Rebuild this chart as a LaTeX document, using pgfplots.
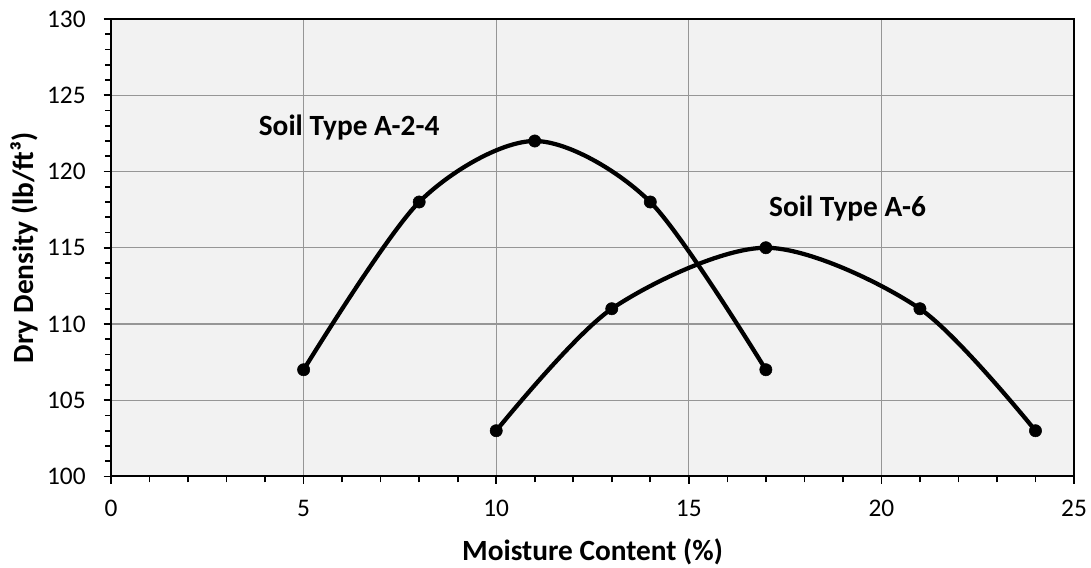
\documentclass[border=0pt]{standalone}
\usepackage{fontspec}
\setmainfont{Carlito}
\usepackage{pgfplots}
\pgfplotsset{compat=1.18}
\definecolor{plotbg}{RGB}{242,242,242}
\definecolor{gridgray}{RGB}{150,150,150}
\tikzset{
	soil/.style={black, line width=3.2pt, smooth, tension=0.5,
		mark=*, mark size=4.6pt, mark options={solid, fill=black, line width=0.4pt}},
}
\begin{document}
\begin{tikzpicture}
% 1 px of the reference = 0.75pt
\useasboundingbox (-83.25pt,-68.25pt) rectangle (734.75pt,357.25pt);
\begin{axis}[
	scale only axis,
	width=722pt, height=343pt,
	xmin=0, xmax=25, ymin=100, ymax=130,
	xtick={0,5,...,25}, ytick={100,105,...,130},
	minor x tick num=4, minor y tick num=4,
	axis background/.style={fill=plotbg},
	axis line style={black, line width=1.5pt},
	grid=major,
	major grid style={gridgray, line width=1pt},
	tick align=outside, tick pos=left,
	major tick length=5.5pt, minor tick length=4.5pt,
	every tick/.style={black, line width=1.2pt},
	tick label style={font=\fontsize{19}{22}\selectfont},
	xticklabel style={yshift=-9pt},
	yticklabel style={xshift=-10pt},
	/pgf/number format/assume math mode=true,
	xlabel={\bfseries Moisture Content (\%)},
	ylabel={\bfseries Dry Density (lb/ft³)},
	label style={font=\fontsize{22}{26}\selectfont},
	xlabel style={yshift=-9pt},
	ylabel style={yshift=0pt},
]
\addplot[soil] coordinates {(5,107) (8,118) (11,122) (14,118) (17,107)};
\addplot[soil] coordinates {(10,103) (13,111) (17,115) (21,111) (24,103)};
\node[font=\fontsize{22}{26}\selectfont\bfseries] at (axis cs:6.18,122.9) {Soil Type A-2-4};
\node[font=\fontsize{22}{26}\selectfont\bfseries] at (axis cs:19.12,117.6) {Soil Type A-6};
\end{axis}
\end{tikzpicture}
\end{document}
